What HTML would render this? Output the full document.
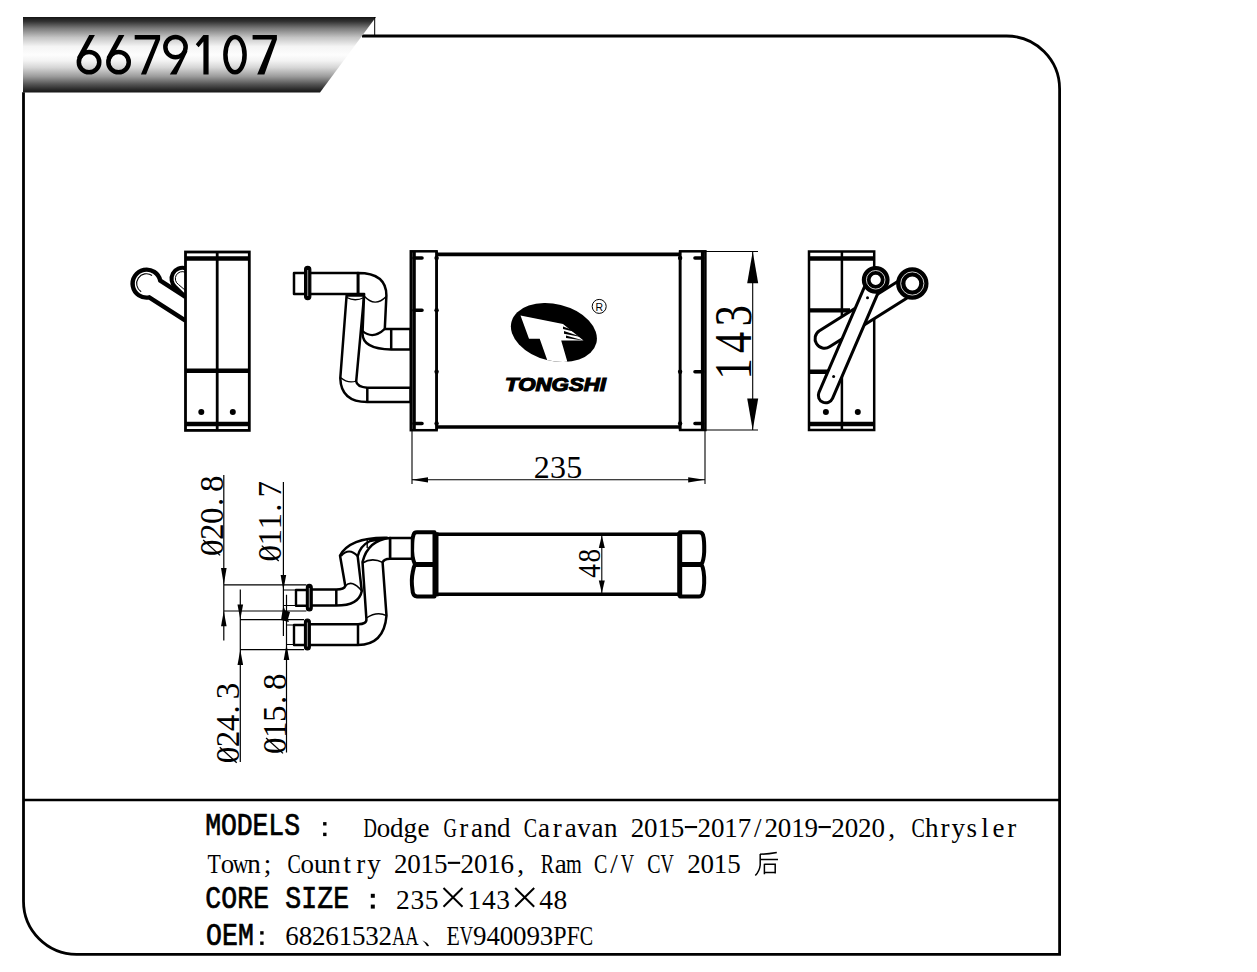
<!DOCTYPE html>
<html><head><meta charset="utf-8"><style>
html,body{margin:0;padding:0;background:#fff;}
svg{display:block;}
</style></head><body>
<svg width="1257" height="972" viewBox="0 0 1257 972">
<rect width="1257" height="972" fill="#fff"/>
<path d="M362,36 H1006.5 A53,53 0 0 1 1059.6,89 V954.3 H76.5 A53,53 0 0 1 23.5,901.3 V92.3" fill="none" stroke="#000" stroke-width="2.8"/>
<path d="M23.5,800 H1059.6" stroke="#000" stroke-width="2.6"/>
<defs><linearGradient id="bg" x1="0" y1="0" x2="0" y2="1">
<stop offset="0" stop-color="#151515"/><stop offset="0.06" stop-color="#333"/><stop offset="0.15" stop-color="#7a7a7a"/>
<stop offset="0.27" stop-color="#c4c4c4"/><stop offset="0.39" stop-color="#f4f4f4"/><stop offset="0.5" stop-color="#fdfdfd"/>
<stop offset="0.58" stop-color="#f3f3f3"/><stop offset="0.67" stop-color="#d6d6d6"/><stop offset="0.79" stop-color="#9a9a9a"/>
<stop offset="0.89" stop-color="#555"/><stop offset="0.96" stop-color="#2a2a2a"/><stop offset="1" stop-color="#151515"/></linearGradient></defs>
<path d="M23,17 H376 L320,92.5 H23 Z" fill="url(#bg)"/>
<path d="M374.7,17 V36" stroke="#000" stroke-width="1"/>
<g fill="none" stroke="#000" stroke-width="4.5"><circle cx="89.05" cy="62.15" r="10.2"/><circle cx="118.55" cy="62.15" r="10.2"/><circle cx="175.5" cy="47.1" r="10.15"/><ellipse cx="235" cy="54.7" rx="9.6" ry="17.6"/></g>
<g fill="#000"><path d="M89.2,34.9 H94.9 L81.6,59 L77,57.5 Z"/><path d="M118.7,34.9 H124.4 L111.1,59 L106.5,57.5 Z"/><path d="M134.7,34.9 H160.1 V39.4 L146.1,74.4 H140.9 L155.4,39.4 H134.7 Z"/><path d="M182.6,54.5 L187.6,51 L176.5,74.6 H169.8 Z"/><path d="M203.4,34.9 H208.6 V74.6 H203.4 V41.5 L198.6,47.3 L195.8,44.2 Z"/><path d="M252.6,34.9 H276.9 V39.5 L264.4,74.6 H257.2 L271.9,39.5 H252.6 Z"/></g>
<g fill="none" stroke="#000" stroke-linecap="butt">
<!-- ===== LEFT SIDE VIEW ===== -->
<g stroke-width="2.8">
  <!-- pipe 2 ring (behind body) -->
  <path d="M185.5,268.2 A11,11 0 0 0 175.2,287 L185.5,297" stroke-width="4"/>
  <path d="M185.5,272.4 A7,7 0 0 0 178.5,284.5 L185.5,290.5" stroke-width="1"/>
  <!-- pipe 1 -->
  <path d="M185.5,296.8 L160.3,280.7 A14,14 0 1 0 149.2,297.4 L185.5,320.6" stroke-width="4.4"/>
  <path d="M152.04,275.45 A9.8,9.8 0 1 0 141.16,291.75" stroke-width="1.1"/>
  <rect x="185.5" y="252" width="63.8" height="178.4" fill="#fff"/>
  <path d="M217.2,252 V430.4"/>
  <path d="M185.5,258.5 H249.3 M185.5,370.7 H249.3 M185.5,424 H249.3" stroke-width="4.6"/>
</g>
<circle cx="201.3" cy="412" r="3" fill="#000" stroke="none"/>
<circle cx="232.8" cy="412" r="3" fill="#000" stroke="none"/>

<!-- ===== FRONT VIEW PIPES ===== -->
<g stroke-width="2.5" fill="#fff" stroke-linejoin="round">
  <!-- pipe 2 (lower) -->
  <path d="M346.6,295.5 L340.3,378.2 Q341,402 367.3,402 H410.6 V387.7 H367.3 Q357,387 356.2,381.4 L364.1,295.5 Z"/>
  <path d="M340.5,377.5 Q348,384 356.2,381" fill="none" stroke-width="1.3"/>
  <path d="M367.3,387.7 V402" fill="none"/>
  <path d="M346.8,297.5 Q355,302 364,297.5" fill="none" stroke-width="1.3"/>
  <!-- pipe 1 (upper) -->
  <path d="M358,273 Q386.4,273 386.4,295.5 L384.8,328.9 H391.2 V328.9 H410.6 V349.6 H391.2 Q362.5,349 362.5,333.6 L364.1,294 H358 Z"/>
  <path d="M364.1,296 Q375,308 386.2,296.5" fill="none" stroke-width="1.4"/>
  <path d="M362.6,331 Q373,340 384.8,328.9" fill="none" stroke-width="2.2"/>
  <path d="M391.2,328.9 V349.6" fill="none"/>
  <rect x="294" y="273" width="64" height="21"/>
  <path d="M358,273 V294" fill="none"/>
  <rect x="304.6" y="266.3" width="6.2" height="33.3" rx="3.1" stroke-width="1.2" fill="#000"/><path d="M307.7,270 V296" stroke="#fff" stroke-width="0.6"/>
</g>

<!-- ===== FRONT VIEW CORE ===== -->
<g stroke-width="2.5">
  <rect x="410.8" y="251.3" width="25.8" height="178.9"/>
  <path d="M414,251.3 V430.2" stroke-width="3.6"/>
  <path d="M436.6,254.4 H680.1 M436.6,427 H680.1" stroke-width="3.6"/>
  <path d="M436.6,251.3 V430.2" stroke-width="2.6"/>
  <rect x="680.1" y="251.3" width="25.3" height="178.7"/>
  <path d="M702.7,251.3 V430" stroke-width="3.6"/>
  <path d="M680.1,251.3 V430" stroke-width="2.6"/>
  <path d="M414,258 H422 M414,310.3 H422 M414,423.5 H422 M695,258 H702.7 M695,371.7 H702.7 M695,423.5 H702.7" stroke-width="3.6" stroke-linecap="round"/>
</g>
<g fill="#000" stroke="none">
  <circle cx="436.6" cy="258" r="2.2"/><circle cx="436.6" cy="310.3" r="2.2"/><circle cx="436.6" cy="371.7" r="2.2"/><circle cx="436.6" cy="423.5" r="2.2"/>
  <circle cx="680.1" cy="258" r="2.2"/><circle cx="680.1" cy="371.7" r="2.2"/><circle cx="680.1" cy="423.5" r="2.2"/>
</g>

<!-- dims 235 / 143 -->
<g stroke-width="1.1">
  <path d="M412,430 V484 M705,430 V484 M411.5,479.8 H704.7"/>
  <path d="M705.4,251.5 H758 M705.4,430 H758 M752.7,251.5 V430"/>
</g>
<g fill="#000" stroke="none">
  <path d="M411.5,479.8 L428,477.2 L428,482.4 Z"/>
  <path d="M704.7,479.8 L688.2,477.2 L688.2,482.4 Z"/>
  <path d="M752.7,251.5 L747.2,283.2 L758.2,283.2 Z"/>
  <path d="M752.7,430 L747.2,398.4 L758.2,398.4 Z"/>
</g>

<!-- ===== LOGO ===== -->
<defs><clipPath id="ell"><ellipse cx="553.9" cy="332.5" rx="43.76" ry="28.4" transform="rotate(14 553.9 332.5)"/></clipPath></defs>
<g stroke="none" fill="#000">
  <ellipse cx="553.9" cy="332.5" rx="43.76" ry="28.4" transform="rotate(14 553.9 332.5)"/>
  <g clip-path="url(#ell)">
  <path d="M520.5,315.5 L563,324 L583.5,340.4 L561.2,340.6 L568.6,366 L549.3,366 L539.7,338.7 L529,338.7 Z" fill="#fff"/>
  <path d="M563,326.5 L583.5,334 L563,329 Z M564,331 L583.5,337.5 L564,333.8 Z M566,335.5 L583.5,340.4 L566,338 Z" fill="#000"/>
  </g>
</g>
<circle cx="599.2" cy="306.4" r="7" stroke-width="1"/>
<text x="595.6" y="310.6" font-family="Liberation Sans" font-size="10.5" fill="#000" stroke="none">R</text>
<text x="505" y="390.6" font-family="Liberation Sans" font-weight="bold" font-style="italic" font-size="17.6" fill="#000" stroke="#000" stroke-width="1.1" textLength="101" lengthAdjust="spacingAndGlyphs">TONGSHI</text>

<!-- ===== RIGHT SIDE VIEW ===== -->
<g stroke-width="2.5">
  <rect x="809" y="251.5" width="65.2" height="178.5"/>
  <path d="M841.9,251.5 V430"/>
  <path d="M809,258.5 H874.2 M809,424 H874.2 M809,310.4 H850 M809,371.7 H830" stroke-width="4.4"/>
</g>
<circle cx="825.9" cy="412" r="3" fill="#000" stroke="none"/>
<circle cx="857.8" cy="412" r="3" fill="#000" stroke="none"/>
<g stroke-width="3" fill="#fff">
  <!-- pipe 2 (behind) -->
  <path d="M907.24,275.46 L819.44,330.76 A9.5,9.5 0 0 0 829.56,346.84 L917.36,291.54 Z"/>
  <circle cx="912.3" cy="283.5" r="11.55" stroke-width="9.3" fill="#fff"/>
  <circle cx="912.3" cy="283.5" r="11.6" stroke="#fff" stroke-width="0.8" fill="none"/>
  <!-- pipe 1 -->
  <path d="M868.66,277.05 L818.86,392.55 A7.45,7.45 0 0 0 832.54,398.45 L882.34,282.95 Z"/>
  <circle cx="875.7" cy="279.8" r="9.5" stroke-width="8.8" fill="#fff"/>
  <circle cx="875.7" cy="279.8" r="9.3" stroke="#fff" stroke-width="0.8" fill="none"/>
</g>
<circle cx="867.5" cy="297.8" r="1.5" fill="#000" stroke="none"/>
<circle cx="833.6" cy="376.6" r="1.5" fill="#000" stroke="none"/>

<!-- ===== BOTTOM VIEW ===== -->
<g stroke-width="3.4">
  <path d="M436,534.3 H680 M436,594.2 H680"/>
</g>
<g stroke-width="4" stroke-linejoin="round" fill="#fff">
  <path d="M417,532.3 H434.5 V596.4 H417 Q412.5,596 412.5,590 Q411,580 412.8,572 Q413.5,567 415,564.4 Q411.5,557 412.2,546 Q412.3,538 413.5,535 Q414,532.3 417,532.3 Z"/>
  <path d="M680,532.3 H699 Q702,532.3 703,535 Q704.5,540 704.2,552 Q703.8,560 701.5,564.4 Q704.5,570 704.2,583 Q704,590 702.5,594 Q701.5,596.4 699,596.4 H680 Z"/>
</g>
<path d="M414.5,564.4 H434.5 M680,564.4 H701.5" stroke-width="5"/>
<path d="M436,532.3 V596.4" stroke-width="5"/>
<path d="M679.7,532.3 V596.4" stroke-width="5"/>
<!-- dim 48 -->
<path d="M601.8,534.3 V594.2" stroke-width="1.1"/>
<g fill="#000" stroke="none">
  <path d="M601.8,535.5 L598.8,548 L604.8,548 Z"/>
  <path d="M601.8,593 L598.8,580.5 L604.8,580.5 Z"/>
</g>

<!-- bottom view pipes -->
<g stroke-width="2.5" fill="#fff" stroke-linejoin="round">
  <!-- connector -->
  <rect x="390" y="538" width="22" height="20.7"/>
  <!-- pipe 2 (long, lower) -->
  <path d="M390,538 Q368,540 362.5,562 L366.4,618.8 Q367,624.2 358,624.2 H307 V645 H358 Q384,645 386.5,615.7 L382.6,562.4 Q384,558.7 390,558.7 Z"/>
  <path d="M362.5,563 Q372,557 382.6,562.4" fill="none" stroke-width="1.6"/>
  <path d="M366.4,618 Q377,611 386.5,615.7" fill="none" stroke-width="1.4"/>
  <path d="M358,624.2 V645" fill="none"/>
  <!-- pipe 1 (short, upper) -->
  <path d="M387,537.7 Q350,537 340,555.5 L345.3,586 Q344,589.5 336.3,589.5 H309 V605.6 H336.3 Q359,605.6 361.8,591 L357.7,556.3 Q360,546 370,541 Z"/>
  <path d="M341,556 Q349,547 357.7,556.3" fill="none" stroke-width="2"/>
  <path d="M345.3,586 Q352,579 361.8,591" fill="none" stroke-width="1.6"/>
  <path d="M336.3,589.5 V605.6" fill="none"/>
  <path d="M367.2,538 V548" fill="none" stroke-width="1.4"/>
  <!-- ends -->
  <rect x="296" y="590" width="13" height="15.8" stroke-width="2.4"/>
  <rect x="294" y="625" width="13" height="20" stroke-width="2.4"/>
  <rect x="306.4" y="584.3" width="5.8" height="26.7" rx="2.9" stroke-width="1.2" fill="#000"/><path d="M309.3,588 V607.5" stroke="#fff" stroke-width="0.6"/>
  <rect x="304.5" y="619" width="5.8" height="31" rx="2.9" stroke-width="1.2" fill="#000"/><path d="M307.4,622.5 V646.5" stroke="#fff" stroke-width="0.6"/>
</g>

<!-- diameter dimension lines -->
<g stroke-width="1.2">
  <path d="M223.8,475 V640.6 M223.8,584.8 H306.4 M223.8,611 H306.4"/>
  <path d="M240.3,589.6 V762 M240.3,619.6 H304 M240.3,649.7 H304"/>
  <path d="M283.4,482 V635.9 M283.4,590 H296 M283.4,605.5 H296"/>
  <path d="M286.5,594.8 V752.4 M286.5,625 H294 M286.5,644.5 H294"/>
</g>
<g fill="#000" stroke="none">
  <path d="M223.8,584.8 L221,568 L226.6,568 Z"/>
  <path d="M223.8,611 L221,626.3 L226.6,626.3 Z"/>
  <path d="M240.3,619.6 L237.5,604.4 L243.1,604.4 Z"/>
  <path d="M240.3,649.7 L237.5,665 L243.1,665 Z"/>
  <path d="M283.4,590 L280.6,575 L286.2,575 Z"/>
  <path d="M283.4,605.5 L281,620 L289,622 Z"/>
  <path d="M286.5,624.4 L284,610 L290,612 Z"/>
  <path d="M286.5,644.5 L283.7,660 L289.3,660 Z"/>
</g>

</g>

<g fill="#000">
<g transform="translate(0,835.5) scale(1,1.15) translate(0,-835.5)" stroke="#000" stroke-width="0.6"><g font-family="Liberation Mono" font-size="26.5" font-weight="normal"><text x="205.15" y="835.5">M</text><text x="220.95" y="835.5">O</text><text x="236.75" y="835.5">D</text><text x="252.55" y="835.5">E</text><text x="268.35" y="835.5">L</text><text x="284.15" y="835.5">S</text></g></g>
<rect x="323.10" y="822.10" width="3.4" height="3.4"/><rect x="323.10" y="832.70" width="3.4" height="3.4"/>
<g font-family="Liberation Serif" font-size="27" font-weight="normal"><text x="363.40" y="836.8" textLength="13.37" lengthAdjust="spacingAndGlyphs">D</text><text x="376.70" y="836.8">o</text><text x="390.07" y="836.8">d</text><text x="403.44" y="836.8">g</text><text x="417.57" y="836.8">e</text><text x="443.62" y="836.8" textLength="13.37" lengthAdjust="spacingAndGlyphs">G</text><text x="459.18" y="836.8">r</text><text x="471.05" y="836.8">a</text><text x="483.67" y="836.8">n</text><text x="497.04" y="836.8">d</text><text x="523.84" y="836.8" textLength="13.37" lengthAdjust="spacingAndGlyphs">C</text><text x="537.90" y="836.8">a</text><text x="552.77" y="836.8">r</text><text x="564.64" y="836.8">a</text><text x="577.25" y="836.8">v</text><text x="591.38" y="836.8">a</text><text x="604.00" y="836.8">n</text><text x="630.74" y="836.8">2</text><text x="644.11" y="836.8">0</text><text x="657.48" y="836.8">1</text><text x="670.85" y="836.8">5</text><rect x="684.82" y="826.00" width="12.3" height="2.1"/><text x="697.59" y="836.8">2</text><text x="710.96" y="836.8">0</text><text x="724.33" y="836.8">1</text><text x="737.70" y="836.8">7</text><text x="754.06" y="836.8">/</text><text x="764.44" y="836.8">2</text><text x="777.81" y="836.8">0</text><text x="791.18" y="836.8">1</text><text x="804.55" y="836.8">9</text><rect x="818.52" y="826.00" width="12.3" height="2.1"/><text x="831.29" y="836.8">2</text><text x="844.66" y="836.8">0</text><text x="858.03" y="836.8">2</text><text x="871.40" y="836.8">0</text><text x="888.14" y="836.8">,</text><text x="911.57" y="836.8" textLength="13.37" lengthAdjust="spacingAndGlyphs">C</text><text x="924.88" y="836.8">h</text><text x="940.50" y="836.8">r</text><text x="951.62" y="836.8">y</text><text x="966.48" y="836.8">s</text><text x="981.35" y="836.8">l</text><text x="992.48" y="836.8">e</text><text x="1007.35" y="836.8">r</text></g>
<g font-family="Liberation Serif" font-size="27" font-weight="normal"><text x="207.40" y="872.6" textLength="13.33" lengthAdjust="spacingAndGlyphs">T</text><text x="220.65" y="872.6">o</text><text x="232.86" y="872.6" textLength="15.73" lengthAdjust="spacingAndGlyphs">w</text><text x="247.31" y="872.6">n</text><text x="263.63" y="872.6">;</text><text x="287.38" y="872.6" textLength="13.33" lengthAdjust="spacingAndGlyphs">C</text><text x="300.62" y="872.6">o</text><text x="313.95" y="872.6">u</text><text x="327.28" y="872.6">n</text><text x="343.61" y="872.6">t</text><text x="356.20" y="872.6">r</text><text x="367.27" y="872.6">y</text><text x="393.93" y="872.6">2</text><text x="407.26" y="872.6">0</text><text x="420.59" y="872.6">1</text><text x="433.92" y="872.6">5</text><rect x="447.85" y="861.80" width="12.3" height="2.1"/><text x="460.58" y="872.6">2</text><text x="473.91" y="872.6">0</text><text x="487.24" y="872.6">1</text><text x="500.57" y="872.6">6</text><text x="517.28" y="872.6">,</text><text x="540.65" y="872.6" textLength="13.33" lengthAdjust="spacingAndGlyphs">R</text><text x="554.65" y="872.6">a</text><text x="566.11" y="872.6" textLength="15.73" lengthAdjust="spacingAndGlyphs">m</text><text x="593.97" y="872.6" textLength="13.33" lengthAdjust="spacingAndGlyphs">C</text><text x="610.21" y="872.6">/</text><text x="620.63" y="872.6" textLength="13.33" lengthAdjust="spacingAndGlyphs">V</text><text x="647.29" y="872.6" textLength="13.33" lengthAdjust="spacingAndGlyphs">C</text><text x="660.62" y="872.6" textLength="13.33" lengthAdjust="spacingAndGlyphs">V</text><text x="687.20" y="872.6">2</text><text x="700.53" y="872.6">0</text><text x="713.86" y="872.6">1</text><text x="727.19" y="872.6">5</text></g>
<g transform="translate(0,908.2) scale(1,1.15) translate(0,-908.2)" stroke="#000" stroke-width="0.6"><g font-family="Liberation Mono" font-size="26.5" font-weight="normal"><text x="205.25" y="908.2">C</text><text x="221.25" y="908.2">O</text><text x="237.25" y="908.2">R</text><text x="253.25" y="908.2">E</text><text x="285.25" y="908.2">S</text><text x="301.25" y="908.2">I</text><text x="317.25" y="908.2">Z</text><text x="333.25" y="908.2">E</text></g></g>
<rect x="370.80" y="893.80" width="4.0" height="4.0"/><rect x="370.80" y="904.60" width="4.0" height="4.0"/>
<g font-family="Liberation Serif" font-size="27.5" font-weight="normal"><text x="396.07" y="908.6">2</text><text x="410.38" y="908.6">3</text><text x="424.68" y="908.6">5</text></g>
<g font-family="Liberation Serif" font-size="27.5" font-weight="normal"><text x="467.57" y="908.6">1</text><text x="481.88" y="908.6">4</text><text x="496.18" y="908.6">3</text></g>
<g font-family="Liberation Serif" font-size="27.5" font-weight="normal"><text x="539.27" y="908.6">4</text><text x="553.57" y="908.6">8</text></g>
<path d="M443.5,888 L462.5,906.8 M462.5,888 L443.5,906.8 M515.2,888 L534.2,906.8 M534.2,888 L515.2,906.8" stroke="#000" stroke-width="2" fill="none"/>
<g transform="translate(0,945) scale(1,1.15) translate(0,-945)" stroke="#000" stroke-width="0.6"><g font-family="Liberation Mono" font-size="26.5" font-weight="normal"><text x="206.05" y="945">O</text><text x="222.05" y="945">E</text><text x="238.05" y="945">M</text></g></g>
<rect x="260.20" y="931.20" width="3.4" height="3.4"/><rect x="260.20" y="941.50" width="3.4" height="3.4"/>
<g font-family="Liberation Serif" font-size="27" font-weight="normal"><text x="285.31" y="945">6</text><text x="298.64" y="945">8</text><text x="311.97" y="945">2</text><text x="325.30" y="945">6</text><text x="338.63" y="945">1</text><text x="351.96" y="945">5</text><text x="365.29" y="945">3</text><text x="378.62" y="945">2</text><text x="392.04" y="945" textLength="13.33" lengthAdjust="spacingAndGlyphs">A</text><text x="405.37" y="945" textLength="13.33" lengthAdjust="spacingAndGlyphs">A</text></g>
<g font-family="Liberation Serif" font-size="27" font-weight="normal"><text x="446.50" y="945" textLength="13.33" lengthAdjust="spacingAndGlyphs">E</text><text x="459.83" y="945" textLength="13.33" lengthAdjust="spacingAndGlyphs">V</text><text x="473.07" y="945">9</text><text x="486.40" y="945">4</text><text x="499.73" y="945">0</text><text x="513.06" y="945">0</text><text x="526.39" y="945">9</text><text x="539.73" y="945">3</text><text x="553.14" y="945" textLength="13.33" lengthAdjust="spacingAndGlyphs">P</text><text x="566.47" y="945" textLength="13.33" lengthAdjust="spacingAndGlyphs">F</text><text x="579.80" y="945" textLength="13.33" lengthAdjust="spacingAndGlyphs">C</text></g>
<g fill="none" stroke="#000" stroke-width="1.5"><path d="M760,854.2 Q768,854 776.8,852.4"/><path d="M760.2,854 V865 Q759.6,871 755.3,875.6"/><path d="M760.5,859.5 H778"/><path d="M764.4,863.8 V874.3 M764.4,864.2 H775.2 V873.5 M764.4,872.4 H775.2"/></g>
<path d="M422.3,940.2 Q427,942 429,945.8 Q427.5,947 426.5,945.5 Q425,942.5 422.3,940.2Z" fill="#000"/>
<g font-family="Liberation Serif" font-size="32" font-weight="normal"><text x="533.65" y="477.8">2</text><text x="549.95" y="477.8">3</text><text x="566.25" y="477.8">5</text></g>
<g transform="translate(750.8,382.35) rotate(-90)"><g font-family="Liberation Serif" font-size="53" font-weight="normal"><text x="2.75" y="0" textLength="21.20" lengthAdjust="spacingAndGlyphs">1</text><text x="29.45" y="0" textLength="21.20" lengthAdjust="spacingAndGlyphs">4</text><text x="56.15" y="0" textLength="21.20" lengthAdjust="spacingAndGlyphs">3</text></g></g>
<g transform="translate(599.5,578.6) rotate(-90)"><g font-family="Liberation Serif" font-size="32" font-weight="normal"><text x="0.85" y="0" textLength="13.60" lengthAdjust="spacingAndGlyphs">4</text><text x="16.15" y="0" textLength="13.60" lengthAdjust="spacingAndGlyphs">8</text></g></g>
<g transform="translate(222.8,555.7) rotate(-90)"><text x="-0.25" y="0" font-family="Liberation Serif" font-size="33">0</text><path d="M0.32,-2.68 L15.68,-19.63" stroke="#000" stroke-width="1.3" fill="none"/><text x="15.75" y="0" font-family="Liberation Serif" font-size="33">2</text><text x="31.75" y="0" font-family="Liberation Serif" font-size="33">0</text><text x="49.60" y="0" font-family="Liberation Serif" font-size="33">.</text><text x="63.75" y="0" font-family="Liberation Serif" font-size="33">8</text></g>
<g transform="translate(281.4,561.3) rotate(-90)"><text x="-0.25" y="0" font-family="Liberation Serif" font-size="33">0</text><path d="M0.32,-2.68 L15.68,-19.63" stroke="#000" stroke-width="1.3" fill="none"/><text x="15.75" y="0" font-family="Liberation Serif" font-size="33">1</text><text x="31.75" y="0" font-family="Liberation Serif" font-size="33">1</text><text x="49.60" y="0" font-family="Liberation Serif" font-size="33">.</text><text x="63.75" y="0" font-family="Liberation Serif" font-size="33">7</text></g>
<g transform="translate(239.4,763.0) rotate(-90)"><text x="-0.25" y="0" font-family="Liberation Serif" font-size="33">0</text><path d="M0.32,-2.68 L15.68,-19.63" stroke="#000" stroke-width="1.3" fill="none"/><text x="15.75" y="0" font-family="Liberation Serif" font-size="33">2</text><text x="31.75" y="0" font-family="Liberation Serif" font-size="33">4</text><text x="49.60" y="0" font-family="Liberation Serif" font-size="33">.</text><text x="63.75" y="0" font-family="Liberation Serif" font-size="33">3</text></g>
<g transform="translate(285.7,753.7) rotate(-90)"><text x="-0.25" y="0" font-family="Liberation Serif" font-size="33">0</text><path d="M0.32,-2.68 L15.68,-19.63" stroke="#000" stroke-width="1.3" fill="none"/><text x="15.75" y="0" font-family="Liberation Serif" font-size="33">1</text><text x="31.75" y="0" font-family="Liberation Serif" font-size="33">5</text><text x="49.60" y="0" font-family="Liberation Serif" font-size="33">.</text><text x="63.75" y="0" font-family="Liberation Serif" font-size="33">8</text></g>
</g>
</svg>
</body></html>
